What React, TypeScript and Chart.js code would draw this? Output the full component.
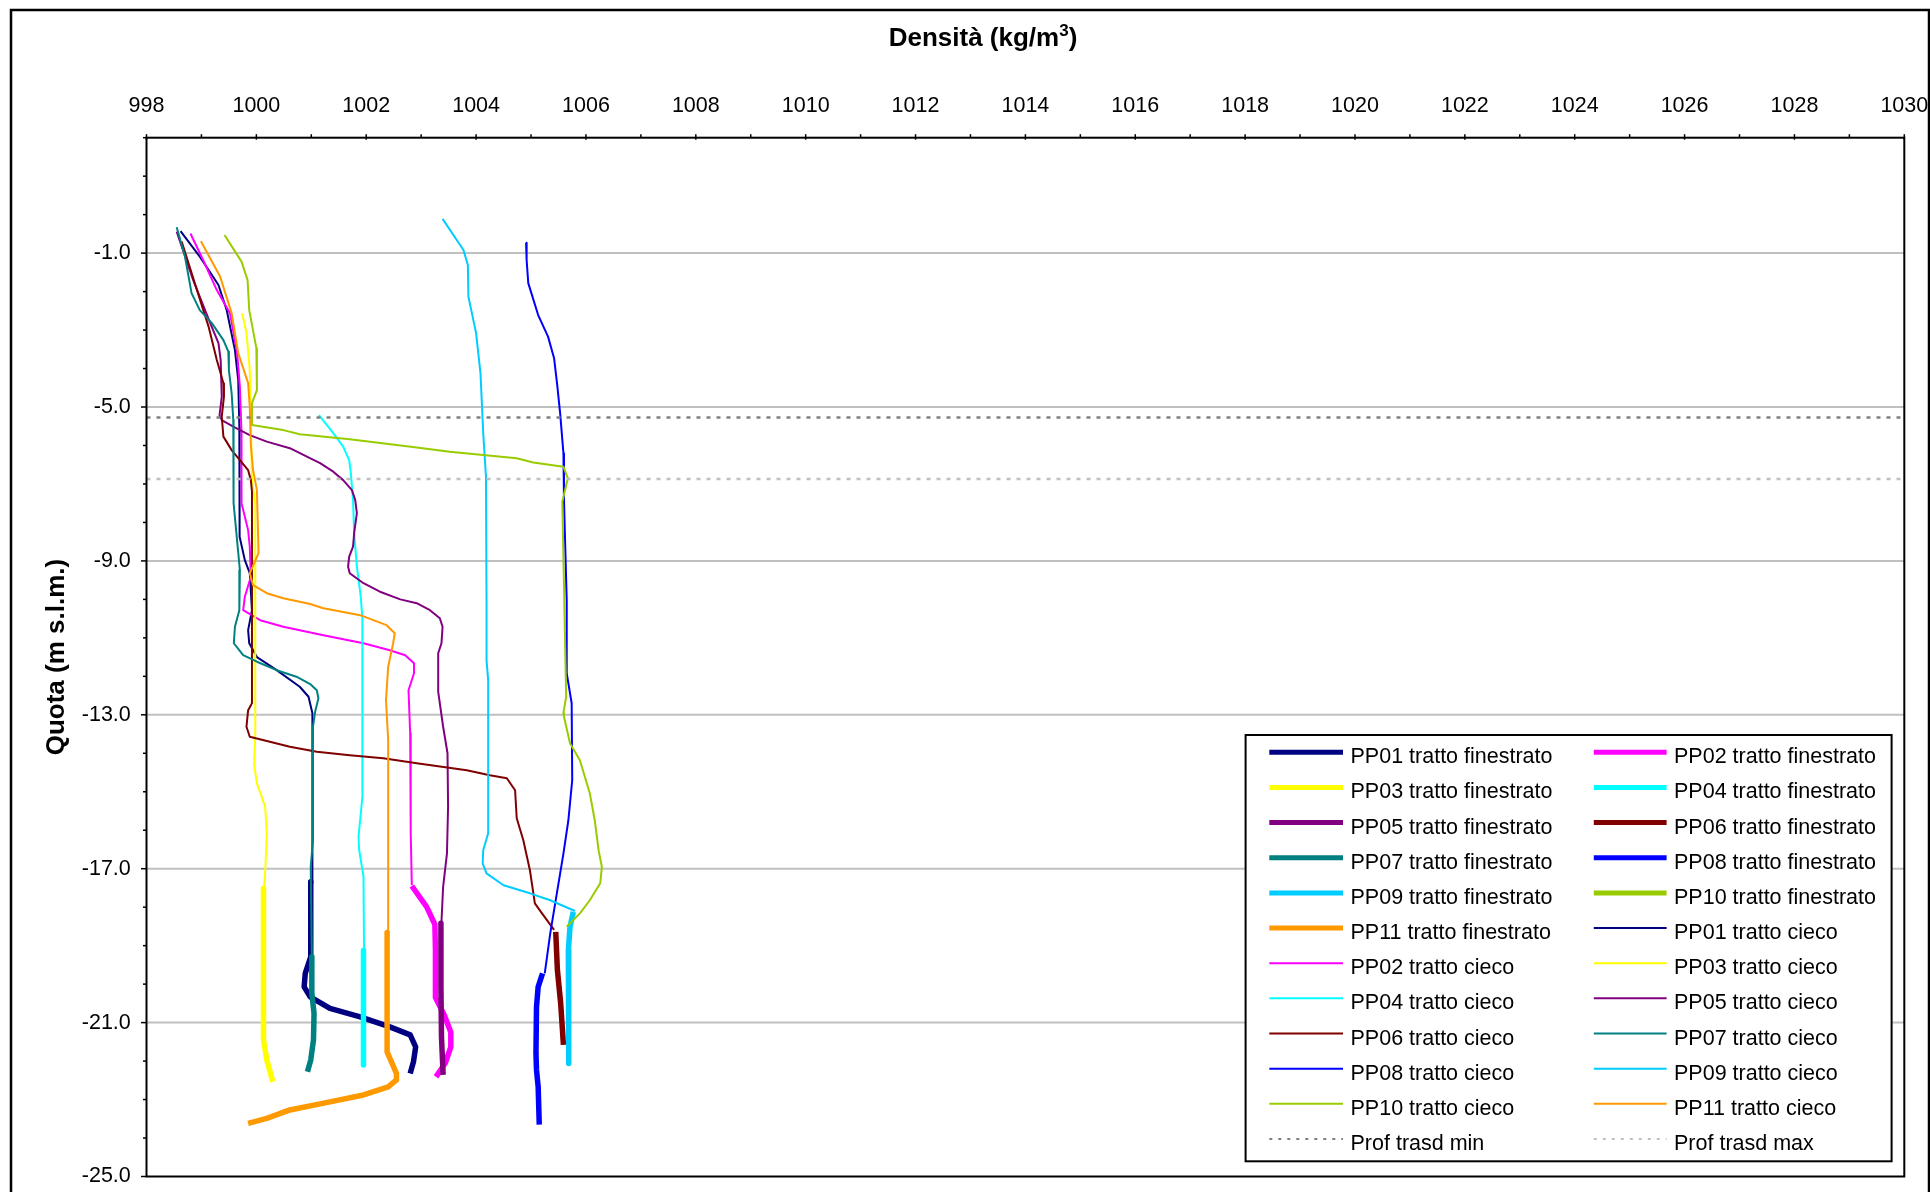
import React, { useEffect, useRef } from "react";
import { Chart, registerables } from "chart.js";

Chart.register(...registerables);

const FONT = '"Liberation Sans", Arial, Helvetica, sans-serif';

// ---- axes ----
const X_MIN = 998;
const X_MAX = 1030;
const X_LABEL_STEP = 2;
const Y_MIN = -25;
const Y_MAX = 2;
const Y_MAJOR = [-25, -21, -17, -13, -9, -5, -1];

const X_TITLE_MAIN = "Densità (kg/m";
const X_TITLE_SUP = "3";
const X_TITLE_END = ")";
const Y_TITLE = "Quota (m s.l.m.)";

// ---- wells ----
const WELLS = ["PP01", "PP02", "PP03", "PP04", "PP05", "PP06", "PP07", "PP08", "PP09", "PP10", "PP11"];
const WELL_COLORS = [
  "#000080", "#FF00FF", "#FFFF00", "#00FFFF", "#800080", "#800000",
  "#008080", "#0000FF", "#00CCFF", "#99CC00", "#FF9900",
];

// ---- data: [density kg/m3, quota m s.l.m.] ----
const pp01Cieco = [
  [998.62, -0.43], [998.97, -1.09], [999.31, -1.83], [999.46, -2.48], [999.61, -3.52], [999.67, -4.3],
  [999.69, -5.5], [999.69, -6.9], [999.7, -8.37], [999.79, -8.98], [999.88, -9.32], [999.92, -10.28],
  [999.85, -10.8], [999.87, -11.14], [1000.01, -11.5], [1000.37, -11.84], [1000.79, -12.27],
  [1000.95, -12.53], [1001.02, -12.96], [1001.02, -17.38],
];
const pp01Fin = [
  [1000.99, -17.34], [1000.99, -19.29], [1000.89, -19.72], [1000.87, -20.07], [1000.98, -20.33],
  [1001.34, -20.63], [1001.89, -20.85], [1002.43, -21.11], [1002.8, -21.32], [1002.9, -21.63],
  [1002.86, -22.02], [1002.8, -22.32],
];
const pp02Cieco = [
  [998.8, -0.49], [999.03, -1.18], [999.28, -1.96], [999.52, -2.56], [999.65, -3.6], [999.7, -4.47],
  [999.73, -5.68], [999.73, -6.9], [999.73, -7.5], [999.85, -8.2], [999.88, -8.63], [999.9, -9.41],
  [999.79, -9.93], [999.76, -10.28], [1000.07, -10.54], [1000.49, -10.71], [1001.22, -10.93],
  [1001.95, -11.14], [1002.43, -11.32], [1002.71, -11.45], [1002.87, -11.66], [1002.87, -11.92],
  [1002.77, -12.36], [1002.8, -13.48], [1002.81, -16.08], [1002.83, -17.43],
];
const pp02Fin = [
  [1002.83, -17.45], [1003.1, -17.99], [1003.25, -18.45], [1003.26, -19.1], [1003.26, -20.35],
  [1003.42, -20.8], [1003.54, -21.25], [1003.54, -21.63], [1003.44, -22.05], [1003.27, -22.41],
];
const pp03Cieco = [
  [999.74, -2.56], [999.82, -3.08], [999.88, -4.04], [999.9, -5.34], [999.92, -6.9], [999.98, -7.5],
  [999.98, -13.5], [999.96, -14.3], [1000.01, -14.78], [1000.16, -15.39], [1000.19, -16.08],
  [1000.16, -17.12], [1000.14, -17.51],
];
const pp03Fin = [[1000.13, -17.51], [1000.13, -21.45], [1000.19, -21.97], [1000.3, -22.54]];
const pp04Cieco = [
  [1001.14, -5.21], [1001.4, -5.68], [1001.58, -6.03], [1001.69, -6.38], [1001.72, -6.72],
  [1001.76, -7.42], [1001.78, -8.28], [1001.83, -9.15], [1001.9, -9.93], [1001.93, -10.5],
  [1001.93, -15.13], [1001.86, -16.17], [1001.87, -16.5], [1001.95, -17.2], [1001.96, -19.12],
];
const pp04Fin = [[1001.95, -19.12], [1001.95, -22.1]];
const pp05Cieco = [
  [998.55, -0.44], [998.85, -1.7], [999.16, -2.82], [999.31, -3.34], [999.35, -3.78], [999.37, -4.73],
  [999.33, -5.21], [999.37, -5.34], [999.58, -5.51], [999.88, -5.73], [1000.19, -5.9], [1000.61, -6.07],
  [1000.92, -6.29], [1001.16, -6.46], [1001.4, -6.68], [1001.58, -6.9], [1001.74, -7.16],
  [1001.8, -7.42], [1001.83, -7.76], [1001.78, -8.28], [1001.76, -8.63], [1001.69, -8.89],
  [1001.67, -9.15], [1001.7, -9.32], [1001.95, -9.58], [1002.25, -9.8], [1002.62, -10.0],
  [1002.92, -10.1], [1003.16, -10.28], [1003.34, -10.49], [1003.39, -10.71], [1003.37, -11.14],
  [1003.31, -11.4], [1003.31, -12.4], [1003.4, -13.31], [1003.48, -14.0], [1003.49, -15.39],
  [1003.47, -16.6], [1003.4, -17.47], [1003.37, -18.38],
];
const pp05Fin = [[1003.36, -18.42], [1003.36, -20.07], [1003.37, -21.37], [1003.4, -22.36]];
const pp06Cieco = [
  [998.64, -0.7], [998.85, -1.65], [999.13, -2.91], [999.28, -3.78], [999.4, -4.38], [999.41, -4.73],
  [999.37, -5.25], [999.4, -5.77], [999.55, -6.12], [999.7, -6.38], [999.85, -6.64], [999.9, -6.9],
  [999.92, -7.2], [999.92, -12.7], [999.85, -12.88], [999.82, -13.31], [999.88, -13.57],
  [1000.61, -13.83], [1001.1, -13.96], [1001.7, -14.05], [1002.31, -14.13], [1002.92, -14.26],
  [1003.83, -14.44], [1004.25, -14.57], [1004.56, -14.65], [1004.71, -14.96], [1004.74, -15.69],
  [1004.86, -16.26], [1004.98, -17.04], [1005.07, -17.9], [1005.22, -18.2], [1005.42, -18.59],
];
const pp06Fin = [[1005.45, -18.64], [1005.48, -19.63], [1005.54, -20.5], [1005.59, -21.58]];
const pp07Cieco = [
  [998.55, -0.33], [998.7, -1.09], [998.82, -2.04], [998.97, -2.48], [999.19, -2.82], [999.4, -3.26],
  [999.49, -3.56], [999.5, -4.04], [999.55, -4.64], [999.58, -5.34], [999.59, -6.9], [999.58, -7.5],
  [999.7, -9.24], [999.69, -10.28], [999.61, -10.71], [999.59, -11.14], [999.76, -11.45],
  [1000.01, -11.62], [1000.37, -11.84], [1000.73, -12.01], [1000.98, -12.2], [1001.1, -12.36],
  [1001.13, -12.57], [1001.07, -12.92], [1001.03, -13.31], [1001.03, -16.26], [1000.99, -16.95],
  [1001.01, -19.29],
];
const pp07Fin = [
  [1001.01, -19.29], [1001.01, -20.24], [1001.05, -20.76], [1001.04, -21.45], [1000.99, -21.97],
  [1000.93, -22.28],
];
const pp08Cieco = [
  [1004.91, -0.73], [1004.92, -1.18], [1004.95, -1.78], [1005.13, -2.61], [1005.31, -3.17],
  [1005.42, -3.73], [1005.48, -4.47], [1005.53, -5.16], [1005.59, -6.2], [1005.6, -7.42],
  [1005.65, -10.02], [1005.65, -11.92], [1005.74, -12.7], [1005.75, -14.7], [1005.68, -15.74],
  [1005.59, -16.61], [1005.47, -17.64], [1005.35, -18.68], [1005.25, -19.72],
];
const pp08Fin = [
  [1005.21, -19.72], [1005.13, -20.07], [1005.1, -20.59], [1005.09, -21.8], [1005.1, -22.23],
  [1005.13, -22.67], [1005.15, -23.65],
];
const pp09Cieco = [
  [1003.39, -0.11], [1003.77, -0.92], [1003.85, -1.31], [1003.86, -2.13], [1004.0, -3.08],
  [1004.08, -4.12], [1004.13, -5.68], [1004.18, -6.81], [1004.19, -10.02], [1004.19, -11.58],
  [1004.22, -12.1], [1004.22, -16.08], [1004.13, -16.52], [1004.12, -16.86], [1004.19, -17.12],
  [1004.5, -17.43], [1004.98, -17.64], [1005.35, -17.82], [1005.8, -18.1],
];
const pp09Fin = [
  [1005.77, -18.12], [1005.71, -18.51], [1005.68, -19.12], [1005.68, -20.07], [1005.69, -20.94],
  [1005.69, -22.06],
];
const pp10Cieco = [
  [999.42, -0.53], [999.73, -1.22], [999.84, -1.7], [999.87, -2.48], [1000.0, -3.47], [1000.01, -4.56],
  [999.92, -4.9], [999.92, -5.47], [1000.49, -5.6], [1000.79, -5.71], [1001.7, -5.84], [1002.92, -6.05],
  [1003.52, -6.16], [1004.13, -6.25], [1004.74, -6.33], [1005.04, -6.44], [1005.59, -6.55],
  [1005.67, -6.85], [1005.57, -7.46], [1005.61, -10.36], [1005.64, -12.53], [1005.59, -12.95],
  [1005.6, -13.05], [1005.71, -13.74], [1005.89, -14.18], [1006.07, -15.04], [1006.16, -15.74],
  [1006.23, -16.52], [1006.29, -16.95], [1006.26, -17.38], [1006.07, -17.82], [1005.89, -18.16],
  [1005.65, -18.51],
];
const pp10Fin: number[][] = [];
const pp11Cieco = [
  [998.99, -0.69], [999.34, -1.61], [999.55, -2.56], [999.67, -3.6], [999.85, -4.38], [999.88, -4.99],
  [999.9, -6.0], [999.94, -6.64], [1000.01, -7.16], [1000.04, -8.8], [999.88, -9.32], [999.94, -9.63],
  [1000.19, -9.84], [1000.49, -9.97], [1000.98, -10.12], [1001.22, -10.23], [1001.89, -10.41],
  [1002.37, -10.67], [1002.52, -10.88], [1002.49, -11.14], [1002.4, -11.75], [1002.36, -12.62],
  [1002.4, -13.66], [1002.4, -18.66],
];
const pp11Fin = [
  [1002.38, -18.66], [1002.38, -21.76], [1002.55, -22.32], [1002.55, -22.49], [1002.4, -22.67],
  [1001.95, -22.88], [1001.34, -23.06], [1000.61, -23.27], [1000.19, -23.49], [999.85, -23.62],
];

const PROF_TRASD_MIN = -5.27;
const PROF_TRASD_MAX = -6.87;

const FINESTRATO = [pp01Fin, pp02Fin, pp03Fin, pp04Fin, pp05Fin, pp06Fin, pp07Fin, pp08Fin, pp09Fin, pp10Fin, pp11Fin];
const CIECO = [pp01Cieco, pp02Cieco, pp03Cieco, pp04Cieco, pp05Cieco, pp06Cieco, pp07Cieco, pp08Cieco, pp09Cieco, pp10Cieco, pp11Cieco];

const THICK = 5.5;
const THIN = 2;
const PROF_MIN_COLOR = "#808080";
const PROF_MAX_COLOR = "#C0C0C0";
const DASH = [4, 6];

function toXY(arr: number[][]) {
  return arr.map(([x, y]) => ({ x, y }));
}

function buildDatasets() {
  const ds: any[] = [];
  WELLS.forEach((w, i) => {
    ds.push({
      label: `${w} tratto finestrato`,
      data: toXY(FINESTRATO[i]),
      borderColor: WELL_COLORS[i],
      backgroundColor: WELL_COLORS[i],
      borderWidth: THICK,
    });
  });
  WELLS.forEach((w, i) => {
    ds.push({
      label: `${w} tratto cieco`,
      data: toXY(CIECO[i]),
      borderColor: WELL_COLORS[i],
      backgroundColor: WELL_COLORS[i],
      borderWidth: THIN,
    });
  });
  ds.push({
    label: "Prof trasd min",
    data: toXY([[X_MIN, PROF_TRASD_MIN], [X_MAX, PROF_TRASD_MIN]]),
    borderColor: PROF_MIN_COLOR,
    backgroundColor: PROF_MIN_COLOR,
    borderWidth: 2.5,
    borderDash: DASH,
  });
  ds.push({
    label: "Prof trasd max",
    data: toXY([[X_MIN, PROF_TRASD_MAX], [X_MAX, PROF_TRASD_MAX]]),
    borderColor: PROF_MAX_COLOR,
    backgroundColor: PROF_MAX_COLOR,
    borderWidth: 2.5,
    borderDash: DASH,
  });
  return ds.map((d, i) => ({
    ...d,
    showLine: true,
    pointRadius: 0,
    pointHoverRadius: 0,
    fill: false,
    tension: 0,
    borderJoinStyle: "round",
    borderCapStyle: "butt",
    order: -i,
  }));
}

// layout (px)
const PLOT_LEFT = 146.5;
const PLOT_TOP = 137.7;
const PLOT_RIGHT = 1904.3;
const PLOT_BOTTOM = 1176.5;
const W = 1930;
const H = 1192;

function zeroPadding(s: any) {
  s.paddingLeft = 0;
  s.paddingRight = 0;
  s.paddingTop = 0;
  s.paddingBottom = 0;
}

const decorPlugin = {
  id: "decor",
  beforeDatasetsDraw(chart: any) {
    const { ctx, chartArea: a, scales } = chart;
    ctx.save();
    ctx.strokeStyle = "#C0C0C0";
    ctx.lineWidth = 2;
    for (const v of Y_MAJOR) {
      if (v === Y_MIN) continue;
      const py = scales.y.getPixelForValue(v);
      ctx.beginPath();
      ctx.moveTo(a.left, py);
      ctx.lineTo(a.right, py);
      ctx.stroke();
    }
    ctx.restore();
  },
  afterDraw(chart: any) {
    const { ctx, chartArea: a, scales } = chart;
    ctx.save();
    // plot frame
    ctx.strokeStyle = "#000";
    ctx.lineWidth = 2;
    ctx.strokeRect(a.left, a.top, a.right - a.left, a.bottom - a.top);
    // x ticks (top)
    ctx.lineWidth = 1.5;
    for (let v = X_MIN; v <= X_MAX; v++) {
      const px = scales.x.getPixelForValue(v);
      const major = (v - X_MIN) % X_LABEL_STEP === 0;
      ctx.beginPath();
      ctx.moveTo(px, a.top - 3.5);
      ctx.lineTo(px, major ? a.top + 2 : a.top);
      ctx.stroke();
    }
    // y ticks (left)
    for (let v = Y_MIN; v <= Y_MAX; v++) {
      const py = scales.y.getPixelForValue(v);
      const major = Y_MAJOR.includes(v);
      ctx.beginPath();
      ctx.moveTo(a.left - (major ? 5.5 : 3.5), py);
      ctx.lineTo(a.left, py);
      ctx.stroke();
    }
    // outer frame
    ctx.lineWidth = 2.5;
    ctx.strokeRect(11, 10, 1918, 1300);

    // x title
    ctx.fillStyle = "#000";
    ctx.textBaseline = "alphabetic";
    const fMain = `bold 26px ${FONT}`;
    const fSup = `bold 17px ${FONT}`;
    ctx.font = fMain;
    const w1 = ctx.measureText(X_TITLE_MAIN).width;
    const w3 = ctx.measureText(X_TITLE_END).width;
    ctx.font = fSup;
    const w2 = ctx.measureText(X_TITLE_SUP).width;
    const total = w1 + w2 + w3;
    let tx = 983 - total / 2;
    const tb = 46;
    ctx.textAlign = "left";
    ctx.font = fMain;
    ctx.fillText(X_TITLE_MAIN, tx, tb);
    tx += w1;
    ctx.font = fSup;
    ctx.fillText(X_TITLE_SUP, tx, tb - 10);
    tx += w2;
    ctx.font = fMain;
    ctx.fillText(X_TITLE_END, tx, tb);

    // y title
    ctx.save();
    ctx.translate(63.5, (a.top + a.bottom) / 2);
    ctx.rotate(-Math.PI / 2);
    ctx.textAlign = "center";
    ctx.font = fMain;
    ctx.fillText(Y_TITLE, 0, 0);
    ctx.restore();

    // legend
    const lx = 1245.6, ly = 735, lw = 646, lh = 426.3;
    ctx.fillStyle = "#fff";
    ctx.fillRect(lx, ly, lw, lh);
    ctx.strokeStyle = "#000";
    ctx.lineWidth = 2;
    ctx.strokeRect(lx, ly, lw, lh);
    const datasets = chart.data.datasets;
    const colLine = [[1269.3, 1343], [1593.8, 1666.6]];
    const colText = [1350.5, 1674];
    ctx.font = `21.5px ${FONT}`;
    ctx.textAlign = "left";
    ctx.textBaseline = "alphabetic";
    datasets.forEach((d: any, j: number) => {
      const row = Math.floor(j / 2);
      const col = j % 2;
      const y = 752.3 + row * 35.15;
      ctx.save();
      ctx.strokeStyle = d.borderColor;
      ctx.lineWidth = d.borderWidth === THICK ? 5 : 2;
      ctx.setLineDash(d.borderDash ? [3, 6] : []);
      ctx.beginPath();
      ctx.moveTo(colLine[col][0], y);
      ctx.lineTo(colLine[col][1], y);
      ctx.stroke();
      ctx.restore();
      ctx.fillStyle = "#000";
      ctx.fillText(d.label, colText[col], y + 11);
    });
    ctx.restore();
  },
};

export default function App() {
  const ref = useRef<HTMLCanvasElement | null>(null);
  useEffect(() => {
    document.body.style.margin = "0";
    const canvas = ref.current;
    if (!canvas) return;
    const chart = new Chart(canvas, {
      type: "scatter",
      data: { datasets: buildDatasets() },
      options: {
        animation: false,
        responsive: false,
        devicePixelRatio: 1,
        events: [],
        layout: {
          padding: { left: 0, top: 0, right: W - PLOT_RIGHT, bottom: H - PLOT_BOTTOM },
        },
        plugins: {
          legend: { display: false },
          tooltip: { enabled: false },
          title: { display: false },
        },
        scales: {
          x: {
            type: "linear",
            position: "top",
            min: X_MIN,
            max: X_MAX,
            ticks: {
              stepSize: X_LABEL_STEP,
              autoSkip: false,
              maxRotation: 0,
              padding: 19,
              color: "#000",
              font: { family: FONT, size: 21.5 },
              callback: (v: any) => String(v),
            },
            grid: { display: false, drawTicks: false },
            border: { display: false },
            afterFit: (s: any) => {
              s.height = PLOT_TOP;
              zeroPadding(s);
            },
          },
          y: {
            type: "linear",
            position: "left",
            min: Y_MIN,
            max: Y_MAX,
            afterBuildTicks: (s: any) => {
              s.ticks = Y_MAJOR.map((v) => ({ value: v }));
            },
            ticks: {
              autoSkip: false,
              padding: 15.7,
              color: "#000",
              font: { family: FONT, size: 21.5 },
              callback: (v: any) => Number(v).toFixed(1),
            },
            grid: { display: false, drawTicks: false },
            border: { display: false },
            afterFit: (s: any) => {
              s.width = PLOT_LEFT;
              zeroPadding(s);
            },
          },
        },
      },
      plugins: [decorPlugin],
    });
    return () => chart.destroy();
  }, []);
  return (
    <div style={{ position: "absolute", left: 0, top: 0, width: W, height: H, background: "#fff", overflow: "hidden" }}>
      <canvas ref={ref} width={W} height={H} style={{ display: "block", width: W, height: H }} />
    </div>
  );
}
